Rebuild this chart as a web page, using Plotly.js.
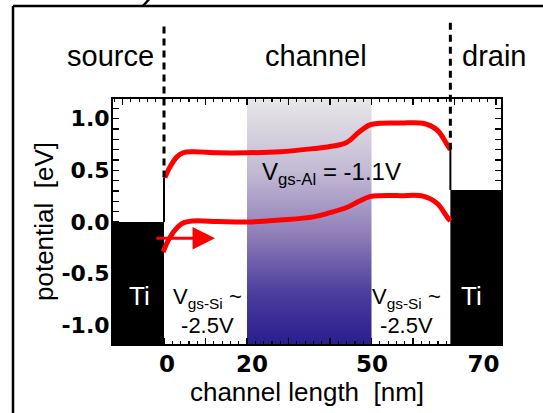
<!DOCTYPE html>
<html>
<head>
<meta charset="utf-8">
<script src="https://cdn.plot.ly/plotly-3.0.1.min.js"></script>
<style>html,body{margin:0;padding:0;background:#fff;}#chart{width:543px;height:413px;}</style>
</head>
<body>
<div id="chart"></div>
<script>
// ---- data ----
var upperX = [0.2, 1.4, 3.1, 4.6, 7, 13, 20, 28, 36, 40, 44, 47, 49.6, 52, 57, 62.4, 65.8, 68.2, 69];
var upperY = [0.43, 0.53, 0.63, 0.67, 0.68, 0.67, 0.67, 0.68, 0.71, 0.73, 0.77, 0.87, 0.94, 0.955, 0.957, 0.955, 0.89, 0.75, 0.70];
var lowerX = [-0.2, 1.0, 2.6, 4.6, 7, 13, 20, 28, 36, 40, 44, 47, 49.6, 52, 57, 62.4, 65.8, 68.2, 69];
var lowerY = [-0.29, -0.18, -0.08, -0.01, 0.01, 0.005, 0.0, 0.02, 0.05, 0.09, 0.14, 0.20, 0.245, 0.255, 0.255, 0.25, 0.18, 0.05, 0.01];
var gateRegion = [20, 50];          // Al-gated part of the channel [nm]
var sourceEdge = 0;                 // source / channel boundary [nm]
var drainEdge = 69;                 // channel / drain boundary [nm]
var tiSourceLevel = 0.0;            // Ti level, source side [eV]
var tiDrainLevel = 0.31;            // Ti level, drain side [eV]
var arrowX = [-2.2, 12.3];
var arrowY = -0.158;
var xTickLabelPos = [0.7, 21.2, 50.1, 77];
var xTickLabelText = ["0", "20", "50", "70"];
var yTickVals = [-1, -0.5, 0, 0.5, 1];
var yTickText = ["-1.0", "-0.5", "0.0", "0.5", "1.0"];
var regionLabels = ["source", "channel", "drain"];

// ---- layout geometry ----
var W = 543, H = 413, L = 113, R = 42, T = 99, B = 69;
var PW = W - L - R, PH = H - T - B;
var xRange = [-12.29, 81.2];
var yRange = [-1.18, 1.19];
function pxX(px) { return (px - L) / PW; }
function pxY(py) { return (H - B - py) / PH; }
function evToPaper(v) { return (v - yRange[0]) / (yRange[1] - yRange[0]); }

var FONT = "Liberation Sans, Arial, Helvetica, sans-serif";
var BOLD = "DejaVu Sans, sans-serif";
var gradScale = [[0, '#2a1e8e'], [0.2, '#4a3b9d'], [0.45, '#8f7fb8'], [0.7, '#c2b9d4'], [1, '#e7e7e8']];

var lo = yRange[0] - 0.2, hi = yRange[1] + 0.2;
var traces = [
  { x: [gateRegion[0], gateRegion[1], gateRegion[1], gateRegion[0], gateRegion[0]],
    y: [lo, lo, hi, hi, lo], mode: 'lines', fill: 'toself', line: {width: 0},
    fillgradient: {type: 'vertical', colorscale: gradScale, start: yRange[0], stop: yRange[1]},
    hoverinfo: 'skip', showlegend: false },
  { x: [xRange[0] - 5, sourceEdge, sourceEdge, xRange[0] - 5, xRange[0] - 5],
    y: [lo, lo, tiSourceLevel, tiSourceLevel, lo], mode: 'lines', fill: 'toself',
    fillcolor: '#000', line: {width: 0}, hoverinfo: 'skip', showlegend: false },
  { x: [drainEdge, xRange[1] + 5, xRange[1] + 5, drainEdge, drainEdge],
    y: [lo, lo, tiDrainLevel, tiDrainLevel, lo], mode: 'lines', fill: 'toself',
    fillcolor: '#000', line: {width: 0}, hoverinfo: 'skip', showlegend: false },
  { x: upperX, y: upperY, mode: 'lines', line: {color: '#ff0000', width: 5, shape: 'spline', smoothing: 1},
    hoverinfo: 'skip', showlegend: false },
  { x: lowerX, y: lowerY, mode: 'lines', line: {color: '#ff0000', width: 5, shape: 'spline', smoothing: 1},
    hoverinfo: 'skip', showlegend: false },
  { x: xTickLabelPos, y: xTickLabelPos.map(function(){return 0;}), xaxis: 'x2', mode: 'markers',
    marker: {opacity: 0}, hoverinfo: 'skip', showlegend: false }
];

var shapes = [
  // outer frame of the figure panel (top and left edges visible)
  {type: 'line', xref: 'paper', yref: 'paper', x0: pxX(13), x1: pxX(545), y0: pxY(6), y1: pxY(6),
   line: {color: '#000', width: 2.5}, layer: 'above'},
  {type: 'line', xref: 'paper', yref: 'paper', x0: pxX(13), x1: pxX(13), y0: pxY(6), y1: pxY(415),
   line: {color: '#000', width: 2.5}, layer: 'above'},
  {type: 'line', xref: 'paper', yref: 'paper', x0: pxX(143), x1: pxX(151), y0: pxY(6), y1: pxY(-3),
   line: {color: '#000', width: 2.5}, layer: 'above'},
  // solid boundary lines between Ti level and band edge
  {type: 'line', xref: 'x', yref: 'y', x0: sourceEdge, x1: sourceEdge, y0: tiSourceLevel, y1: upperY[0],
   line: {color: '#000', width: 2}, layer: 'above'},
  {type: 'line', xref: 'x', yref: 'y', x0: drainEdge, x1: drainEdge, y0: tiDrainLevel, y1: upperY[upperY.length - 1],
   line: {color: '#000', width: 2}, layer: 'above'},
  // dashed region separators
  {type: 'line', xref: 'x', yref: 'paper', x0: sourceEdge, x1: sourceEdge, y0: evToPaper(upperY[0]), y1: pxY(22),
   line: {color: '#000', width: 3, dash: '7px,5px'}, layer: 'above'},
  {type: 'line', xref: 'x', yref: 'paper', x0: drainEdge, x1: drainEdge, y0: evToPaper(upperY[upperY.length - 1]), y1: pxY(22),
   line: {color: '#000', width: 3, dash: '7px,5px'}, layer: 'above'}
];

function topLabel(txt, px) {
  return {xref: 'paper', yref: 'paper', x: pxX(px), y: pxY(56), xanchor: 'center', yanchor: 'middle',
          text: txt, showarrow: false, font: {family: FONT, size: 29, color: '#000'}};
}
var annotations = [
  topLabel(regionLabels[0], 110),
  topLabel(regionLabels[1], 316),
  topLabel(regionLabels[2], 494),
  {x: -5.8, y: -0.72, text: 'Ti', showarrow: false, xanchor: 'center', yanchor: 'middle',
   font: {family: FONT, size: 26, color: '#fff'}},
  {x: 74.2, y: -0.72, text: 'Ti', showarrow: false, xanchor: 'center', yanchor: 'middle',
   font: {family: FONT, size: 26, color: '#fff'}},
  {x: 10.4, y: -0.86, text: 'V<sub>gs-Si</sub> ~<br>-2.5V', showarrow: false, align: 'center',
   xanchor: 'center', yanchor: 'middle', font: {family: FONT, size: 22, color: '#000'}},
  {x: 58.5, y: -0.86, text: 'V<sub>gs-Si</sub> ~<br>-2.5V', showarrow: false, align: 'center',
   xanchor: 'center', yanchor: 'middle', font: {family: FONT, size: 22, color: '#000'}},
  {x: 40.3, y: 0.47, text: 'V<sub>gs-Al</sub> = -1.1V', showarrow: false, xanchor: 'center', yanchor: 'middle',
   font: {family: FONT, size: 24, color: '#000'}},
  {x: arrowX[1], y: arrowY, ax: arrowX[0], ay: arrowY, axref: 'x', ayref: 'y', text: '',
   showarrow: true, arrowhead: 2, arrowsize: 1.5, arrowwidth: 3, arrowcolor: '#ff0000'}
];

var layout = {
  width: W, height: H,
  margin: {l: L, r: R, t: T, b: B, pad: 0},
  paper_bgcolor: '#fff', plot_bgcolor: '#fff',
  showlegend: false,
  xaxis: {
    range: xRange, showgrid: false, zeroline: false,
    showline: true, linecolor: '#000', linewidth: 2, mirror: 'allticks',
    ticks: 'inside', ticklen: 6, tickwidth: 1.5, tickcolor: '#000',
    tickmode: 'linear', tick0: 0, dtick: 10, showticklabels: false,
    minor: {dtick: 2, tick0: 0, ticks: 'inside', ticklen: 3, tickwidth: 1.2, tickcolor: '#000'}
  },
  xaxis2: {
    range: xRange, overlaying: 'x', anchor: 'y', side: 'bottom',
    showgrid: false, zeroline: false, showline: false, ticks: '',
    tickmode: 'array', tickvals: xTickLabelPos, ticktext: xTickLabelText,
    tickfont: {family: BOLD, size: 23, color: '#000', weight: 'bold'},
    ticklabelstandoff: 4,
    title: {text: 'channel length  [nm]', font: {family: FONT, size: 26, color: '#000'}, standoff: 2}
  },
  yaxis: {
    range: yRange, showgrid: false, zeroline: false,
    showline: true, linecolor: '#000', linewidth: 2, mirror: 'allticks',
    ticks: 'inside', ticklen: 6, tickwidth: 1.5, tickcolor: '#000',
    tickmode: 'array', tickvals: yTickVals, ticktext: yTickText,
    tickfont: {family: BOLD, size: 22, color: '#000', weight: 'bold'},
    ticklabelstandoff: -3,
    minor: {dtick: 0.1, tick0: 0, ticks: 'inside', ticklen: 3, tickwidth: 1.2, tickcolor: '#000'},
    title: {text: 'potential  [eV]', font: {family: FONT, size: 26, color: '#000'}, standoff: 0}
  },
  shapes: shapes,
  annotations: annotations
};

Plotly.newPlot('chart', traces, layout, {displayModeBar: false, staticPlot: true});
</script>
</body>
</html>
